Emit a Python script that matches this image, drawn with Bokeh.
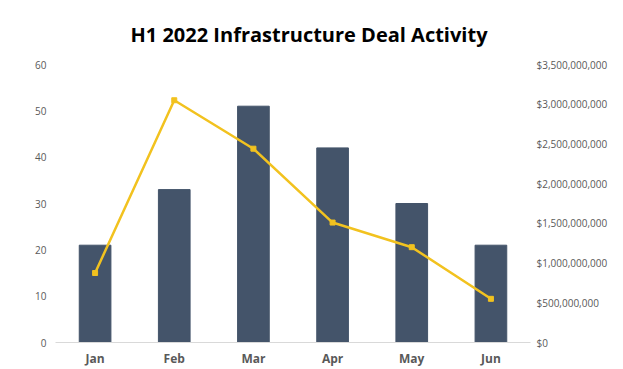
from bokeh.plotting import figure
from bokeh.models import LinearAxis, Range1d, FixedTicker, NumeralTickFormatter, ColumnDataSource
from bokeh.embed import file_html
from bokeh.resources import INLINE

months = ["Jan", "Feb", "Mar", "Apr", "May", "Jun"]
deal_count = [21, 33, 51, 42, 30, 21]
deal_value = [875_000_000, 3_050_000_000, 2_440_000_000, 1_510_000_000, 1_200_000_000, 550_000_000]
left_ticks = [0, 10, 20, 30, 40, 50, 60]
right_ticks = [0, 500_000_000, 1_000_000_000, 1_500_000_000, 2_000_000_000,
               2_500_000_000, 3_000_000_000, 3_500_000_000]

src = ColumnDataSource(dict(m=months, c=deal_count, v=deal_value))

p = figure(x_range=months, y_range=Range1d(0, 60), width=623, height=369,
           output_backend="svg", toolbar_location=None,
           min_border_left=55, min_border_right=93, min_border_top=64, min_border_bottom=24)
p.x_range.range_padding = 0
p.extra_y_ranges = {"money": Range1d(0, 3_500_000_000)}

p.vbar(x="m", top="c", width=0.4, source=src, fill_color="#44546a", line_color="#44546a")
p.line(x="m", y="v", source=src, y_range_name="money", line_color="#f2c21f", line_width=2.5)
p.scatter(x="m", y="v", source=src, y_range_name="money", marker="square", size=5,
          fill_color="#f2c21f", line_color="#f2c21f")

p.title.text = "H1 2022 Infrastructure Deal Activity"
p.title.align = "left"
p.title.text_font = "Open Sans"
p.title.text_font_size = "20px"
p.title.text_font_style = "bold"
p.title.text_color = "#000000"
p.title.offset = 75
p.title.standoff = 34

p.xgrid.visible = False
p.ygrid.visible = False
p.outline_line_color = None

ax = p.xaxis[0]
ax.axis_line_color = "#d9d9d9"
ax.major_tick_line_color = None
ax.minor_tick_line_color = None
ax.major_tick_in = 0
ax.major_tick_out = 0
ax.major_label_text_font = "Open Sans"
ax.major_label_text_font_size = "12px"
ax.major_label_text_font_style = "bold"
ax.major_label_text_color = "#595959"
ax.major_label_standoff = 7

ay = p.yaxis[0]
ay.ticker = FixedTicker(ticks=left_ticks)
ay.axis_line_color = None
ay.major_tick_line_color = None
ay.minor_tick_line_color = None
ay.major_tick_in = 0
ay.major_tick_out = 0
ay.major_label_text_font = "Open Sans"
ay.major_label_text_font_size = "10px"
ay.major_label_text_color = "#595959"
ay.major_label_standoff = 9

ry = LinearAxis(y_range_name="money", ticker=FixedTicker(ticks=right_ticks),
                formatter=NumeralTickFormatter(format="$0,0"))
ry.axis_line_color = None
ry.major_tick_line_color = None
ry.minor_tick_line_color = None
ry.major_tick_in = 0
ry.major_tick_out = 0
ry.major_label_text_font = "Open Sans"
ry.major_label_text_font_size = "10px"
ry.major_label_text_color = "#595959"
ry.major_label_standoff = 6
p.add_layout(ry, "right")

open("out.html", "w").write(file_html(p, INLINE))
